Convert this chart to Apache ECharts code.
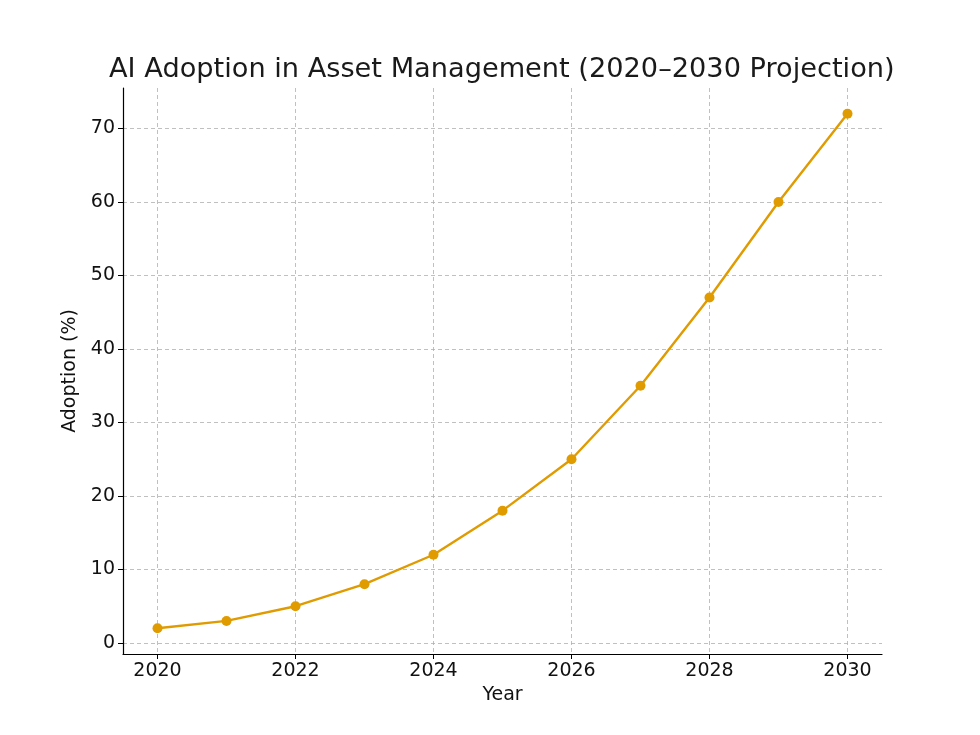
<!DOCTYPE html>
<html>
<head>
<meta charset="utf-8">
<script src="https://cdn.jsdelivr.net/npm/echarts@6/dist/echarts.min.js"></script>
<style>
  html, body { margin: 0; padding: 0; background: #fff; }
  #chart { width: 980px; height: 735px; }
</style>
</head>
<body>
<div id="chart"></div>
<script>
// data
var years = [2020, 2021, 2022, 2023, 2024, 2025, 2026, 2027, 2028, 2029, 2030];
var adoption = [2, 3, 5, 8, 12, 18, 25, 35, 47, 60, 72];
var xTicks = [2020, 2022, 2024, 2026, 2028, 2030];
var yTicks = [0, 10, 20, 30, 40, 50, 60, 70];

var font = 'DejaVu Sans';
var gridLine = { show: true, lineStyle: { color: '#b0b0b0', type: [4, 3], width: 0.8 } };

var chart = echarts.init(document.getElementById('chart'), null, { renderer: 'canvas' });

chart.setOption({
    animation: false,
    backgroundColor: '#fff',
    title: {
        text: 'AI Adoption in Asset Management (2020\u20132030 Projection)',
        left: 104,
        top: 51,
        textStyle: { fontFamily: font, fontSize: 27.2, fontWeight: 'normal', color: '#1a1a1a' }
    },
    grid: { left: 123, right: 98, top: 88, bottom: 81, containLabel: false },
    xAxis: {
        type: 'value',
        min: 2019.5,
        max: 2030.5,
        name: 'Year',
        nameLocation: 'middle',
        nameGap: 31,
        nameTextStyle: { fontFamily: font, fontSize: 19, color: '#111' },
        axisLine: { show: true, onZero: false, lineStyle: { color: '#000', width: 1.2 } },
        axisTick: { show: true, customValues: xTicks, length: 5, inside: false, lineStyle: { color: '#000', width: 1 } },
        axisLabel: {
            customValues: xTicks, fontFamily: font, fontSize: 19, color: '#111', margin: 8,
            formatter: function (v) { return String(v); }
        },
        splitLine: gridLine
    },
    yAxis: {
        type: 'value',
        min: -1.5,
        max: 75.5,
        name: 'Adoption (%)',
        nameLocation: 'middle',
        nameGap: 32,
        nameTextStyle: { fontFamily: font, fontSize: 19, color: '#111' },
        axisLine: { show: true, onZero: false, lineStyle: { color: '#000', width: 1.2 } },
        axisTick: { show: true, customValues: yTicks, length: 5, inside: false, lineStyle: { color: '#000', width: 1 } },
        axisLabel: { customValues: yTicks, fontFamily: font, fontSize: 19, color: '#111', margin: 8 },
        splitLine: gridLine
    },
    series: [{
        type: 'line',
        data: years.map(function (y, i) { return [y, adoption[i]]; }),
        symbol: 'circle',
        symbolSize: 10,
        lineStyle: { color: '#e09b00', width: 2.4 },
        itemStyle: { color: '#e09b00' }
    }]
});
</script>
</body>
</html>
